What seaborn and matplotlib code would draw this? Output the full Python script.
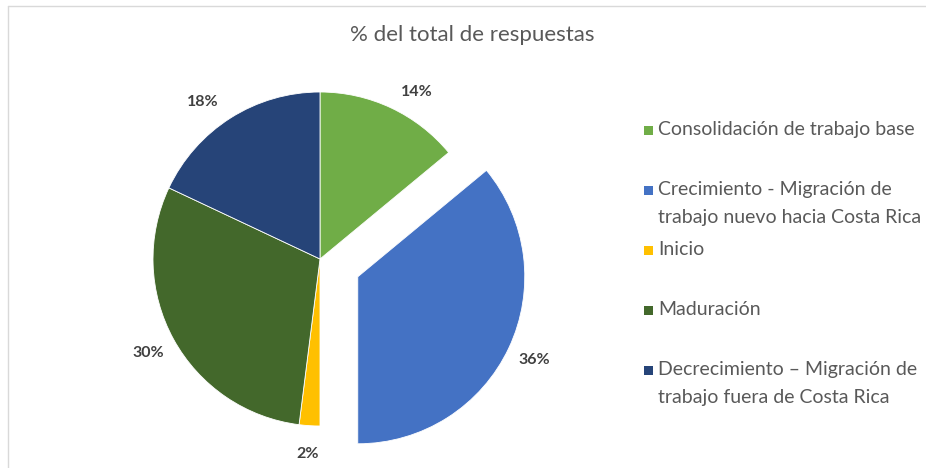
import matplotlib.pyplot as plt
import matplotlib.patches as mpatches
import seaborn as sns

# Data
categories = [
    "Consolidación de trabajo base",
    "Crecimiento - Migración de\ntrabajo nuevo hacia Costa Rica",
    "Inicio",
    "Maduración",
    "Decrecimiento – Migración de\ntrabajo fuera de Costa Rica",
]
shares = [14, 36, 2, 30, 18]
colors = ["#70AD47", "#4472C4", "#FFC000", "#43682B", "#264478"]
explode = [0, 0.25, 0, 0, 0]

sns.set_theme(style="white")
plt.rcParams['font.family'] = ['Lato', 'DejaVu Sans']

W, H = 926, 468
fig = plt.figure(figsize=(W / 100, H / 100), dpi=100)
fig.patch.set_facecolor("white")

# pie axes placed in pixels: centre (320, 259), radius 167 px
R = 167.0
cx, cy = 320, 259
ax_w, ax_h = 400, 398
ax = fig.add_axes([(cx - ax_w / 2) / W, (H - cy - ax_h / 2) / H, ax_w / W, ax_h / H])
wedges, texts, autotexts = ax.pie(
    shares, colors=colors, explode=explode, startangle=90, counterclock=False,
    autopct="%1.0f%%", pctdistance=1.17, radius=1.0,
    wedgeprops=dict(linewidth=0.6, edgecolor="white"),
    textprops=dict(color="#404040", fontsize=11.5, fontweight="bold"),
)
ax.set_xlim(-ax_w / 2 / R, ax_w / 2 / R)
ax.set_ylim(-ax_h / 2 / R, ax_h / 2 / R)
ax.set_aspect("auto")
ax.axis("off")

# Excel-style "outside end" nudges for the two top labels (in px)
for t, (dx, dy) in zip([autotexts[0], autotexts[4]], [(14, -10), (-13, -8)]):
    x, y = t.get_position()
    t.set_position((x + dx / R, y + dy / R))

fig.text(472 / W, 1 - 35 / H, "% del total de respuestas", ha="center", va="center",
         fontsize=16, color="#595959")

# legend, one entry every 60 px
for i, (lab, col) in enumerate(zip(categories, colors)):
    y = 130 + 60 * i
    fig.patches.append(mpatches.Rectangle((644 / W, 1 - (y + 5) / H), 9 / W, 9 / H,
                                          transform=fig.transFigure, facecolor=col,
                                          edgecolor="none"))
    fig.text(658 / W, 1 - (y - 9) / H, lab, ha="left", va="top", fontsize=14,
             color="#595959", linespacing=1.75)

# faint frame
fig.add_artist(plt.Line2D([8 / W, 8 / W], [0, 1 - 6 / H], transform=fig.transFigure,
                          color="#d9d9d9", lw=1))
fig.add_artist(plt.Line2D([8 / W, 1], [1 - 6 / H, 1 - 6 / H], transform=fig.transFigure,
                          color="#d9d9d9", lw=1))

fig.savefig("out.png", dpi=100)
